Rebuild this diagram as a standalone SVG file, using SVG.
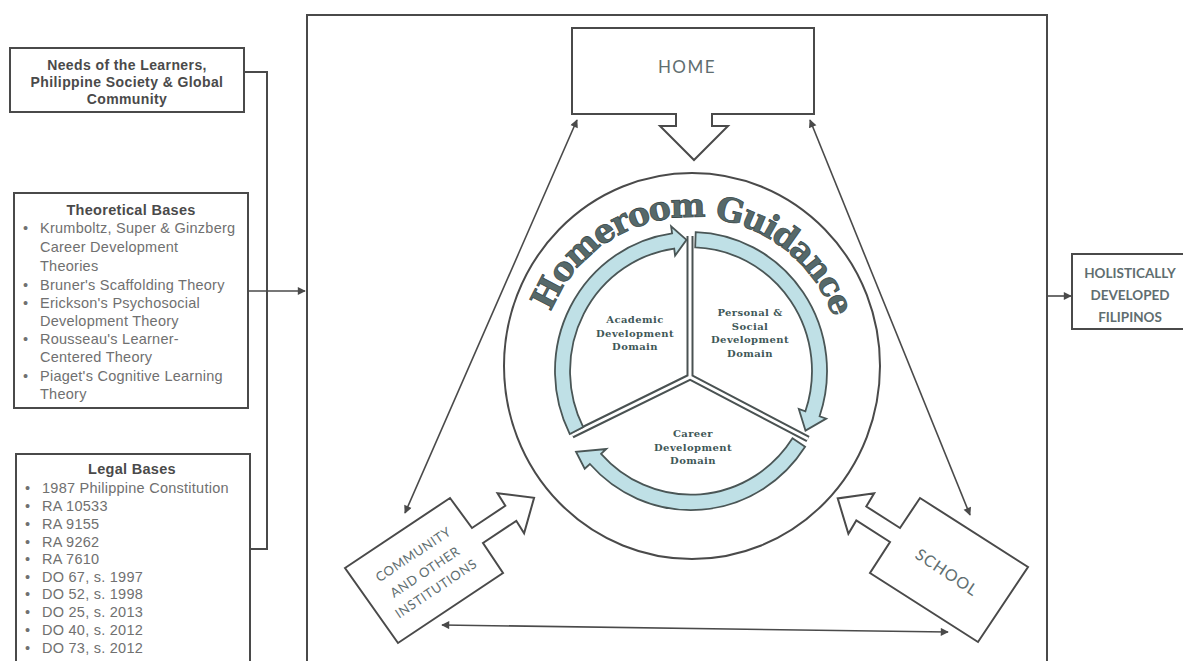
<svg xmlns="http://www.w3.org/2000/svg" width="1183" height="661" viewBox="0 0 1183 661">
<style>
.ln{stroke:#4a4a4a;stroke-width:2;fill:none}
.box{fill:#fff;stroke:#4a4a4a;stroke-width:2}
.tb{font-family:"Liberation Sans",Arial,sans-serif;font-weight:bold;fill:#4a4a4a}
.tl{font-family:"Liberation Sans",Arial,sans-serif;fill:#707070;font-size:14.5px;letter-spacing:0.25px}
.dom{font-family:"DejaVu Serif",serif;font-weight:bold;font-size:10px;fill:#3f5858;text-anchor:middle;letter-spacing:0.4px}
.cal{font-family:Lato,"Open Sans",sans-serif;fill:#5f6e70}
.ring{fill:#bfe0e6;stroke:#4a5656;stroke-width:1.8;stroke-linejoin:miter}
.thin{stroke:#4a4a4a;stroke-width:1.6;fill:none}
</style>
<defs>
<marker id="ah" viewBox="0 0 10 10" refX="9" refY="5" markerWidth="9" markerHeight="8" markerUnits="userSpaceOnUse" orient="auto-start-reverse">
<path d="M0,0 L10,5 L0,10 z" fill="#4a4a4a"/>
</marker>
<path id="hgArc" d="M540,368 A151,151 0 0,1 842,368"/>
</defs>
<rect width="1183" height="661" fill="#fff"/>

<g id="frame"><rect x="307" y="15" width="740" height="660" class="box" fill="none"/></g>

<g id="needs">
<rect x="10" y="48" width="234" height="64" class="box"/>
<text class="tb" font-size="14" letter-spacing="0.4" text-anchor="middle"><tspan x="127" y="70">Needs of the Learners,</tspan><tspan x="127" y="87">Philippine Society &amp; Global</tspan><tspan x="127" y="104">Community</tspan></text>
</g>

<g id="theoretical">
<rect x="14" y="193" width="234" height="215" class="box"/>
<text class="tb" font-size="14.5" letter-spacing="0.3" x="131" y="215" text-anchor="middle">Theoretical Bases</text>
<g class="tl">
<text x="23" y="233">•</text><text x="40" y="233">Krumboltz, Super &amp; Ginzberg</text>
<text x="40" y="252">Career Development</text>
<text x="40" y="271">Theories</text>
<text x="23" y="290">•</text><text x="40" y="290">Bruner's Scaffolding Theory</text>
<text x="23" y="308">•</text><text x="40" y="308">Erickson's Psychosocial</text>
<text x="40" y="326">Development Theory</text>
<text x="23" y="344">•</text><text x="40" y="344">Rousseau's Learner-</text>
<text x="40" y="362">Centered Theory</text>
<text x="23" y="381">•</text><text x="40" y="381">Piaget's Cognitive Learning</text>
<text x="40" y="399">Theory</text>
</g>
</g>

<g id="legal">
<rect x="16" y="454" width="234" height="220" class="box"/>
<text class="tb" font-size="14.5" letter-spacing="0.3" x="132" y="474" text-anchor="middle">Legal Bases</text>
<g class="tl">
<text x="25" y="493">•</text><text x="42" y="493">1987 Philippine Constitution</text>
<text x="25" y="511">•</text><text x="42" y="511">RA 10533</text>
<text x="25" y="529">•</text><text x="42" y="529">RA 9155</text>
<text x="25" y="547">•</text><text x="42" y="547">RA 9262</text>
<text x="25" y="564">•</text><text x="42" y="564">RA 7610</text>
<text x="25" y="582">•</text><text x="42" y="582">DO 67, s. 1997</text>
<text x="25" y="599">•</text><text x="42" y="599">DO 52, s. 1998</text>
<text x="25" y="617">•</text><text x="42" y="617">DO 25, s. 2013</text>
<text x="25" y="635">•</text><text x="42" y="635">DO 40, s. 2012</text>
<text x="25" y="653">•</text><text x="42" y="653">DO 73, s. 2012</text>
</g>
</g>

<g id="holistic">
<rect x="1072" y="254" width="115" height="75" class="box"/>
<text class="cal" font-weight="bold" font-size="13.5" text-anchor="middle" fill="#555"><tspan x="1130" y="278">HOLISTICALLY</tspan><tspan x="1130" y="300">DEVELOPED</tspan><tspan x="1130" y="322">FILIPINOS</tspan></text>
</g>

<g id="home">
<path d="M572,28 H814 V114 H712 V126 H728 L694,160 L660,126 H676 V114 H572 Z" class="box"/>
<text class="cal" font-size="17" x="687" y="73" text-anchor="middle" letter-spacing="1.5">HOME</text>
</g>

<g id="community">
<polygon points="345,568 450,498 472,528 505.3,505.8 497.5,493.3 534.1,497.8 524.1,533.3 516.3,520.8 483,543 503,573 398,643" class="box"/>
<g transform="translate(425,572) rotate(-33.7)">
<text class="cal" font-size="13" text-anchor="middle" letter-spacing="0.6"><tspan x="0" y="-16.5">COMMUNITY</tspan><tspan x="0" y="4.5">AND OTHER</tspan><tspan x="0" y="24.5">INSTITUTIONS</tspan></text>
</g>
</g>

<g id="school">
<polygon points="920,498 1028,567 978,642 870,573 890,542 856.3,520.5 848.4,533.7 837.7,498.4 874.2,493.3 866.3,506.5 900,528" class="box"/>
<g transform="translate(947,572) rotate(33.7)">
<text class="cal" font-size="16" text-anchor="middle" letter-spacing="1" x="0" y="6">SCHOOL</text>
</g>
</g>

<g id="homeroom">
<ellipse cx="692" cy="366" rx="188" ry="193" class="box" fill="none"/>
<text font-family="'DejaVu Serif',serif" font-weight="bold" font-size="33" fill="#56696a" stroke="#3b4a4a" stroke-width="0.8" letter-spacing="-1.6"><textPath href="#hgArc" startOffset="50.5%" text-anchor="middle">Homeroom Guidance</textPath></text>
<g id="spokes">
<path d="M690,236 L690,377 L572,435 M690,377 L808,439" stroke="#4a5252" stroke-width="7" fill="none" stroke-linejoin="miter"/>
<path d="M690,236 L690,377 L572,435 M690,377 L808,439" stroke="#fff" stroke-width="3" fill="none" stroke-linejoin="miter"/>
</g>
<g id="ring" transform="translate(0,-4.08) scale(1,1.022)">
<path class="ring" d="M569.8,428.7 A136,136 0 0,1 672.1,232.3 L671.1,225.4 L686.5,238.6 L675.1,254.1 L674.2,247.2 A121,121 0 0,0 583.2,421.9 Z"/>
<path class="ring" d="M695.7,231.1 A136,136 0 0,1 819.6,411.3 L826.2,413.6 L805.5,425.3 L798.8,404.1 L805.4,406.4 A121,121 0 0,0 695.2,246.1 Z"/>
<path class="ring" d="M805.1,441.1 A136,136 0 0,1 589.9,458.0 L584.7,462.7 L576,446 L606.3,443.3 L601.1,448.0 A121,121 0 0,0 792.5,432.9 Z"/>
</g>
<text class="dom"><tspan x="635" y="323">Academic</tspan><tspan x="635" y="337">Development</tspan><tspan x="635" y="350">Domain</tspan></text>
<text class="dom"><tspan x="750" y="316">Personal &amp;</tspan><tspan x="750" y="330">Social</tspan><tspan x="750" y="343">Development</tspan><tspan x="750" y="357">Domain</tspan></text>
<text class="dom"><tspan x="693" y="437">Career</tspan><tspan x="693" y="451">Development</tspan><tspan x="693" y="464">Domain</tspan></text>
</g>

<g id="connectors">
<polyline points="244,72 267,72 267,549 250,549" class="ln"/>
<line x1="248" y1="291" x2="305" y2="291" class="thin" marker-end="url(#ah)"/>
<line x1="1047" y1="296" x2="1071" y2="296" class="thin" marker-end="url(#ah)"/>
<line x1="577" y1="120" x2="405" y2="513" class="thin" marker-start="url(#ah)" marker-end="url(#ah)"/>
<line x1="810" y1="120" x2="970" y2="515" class="thin" marker-start="url(#ah)" marker-end="url(#ah)"/>
<line x1="442" y1="625" x2="948" y2="632" class="thin" marker-start="url(#ah)" marker-end="url(#ah)"/>
</g>
</svg>
